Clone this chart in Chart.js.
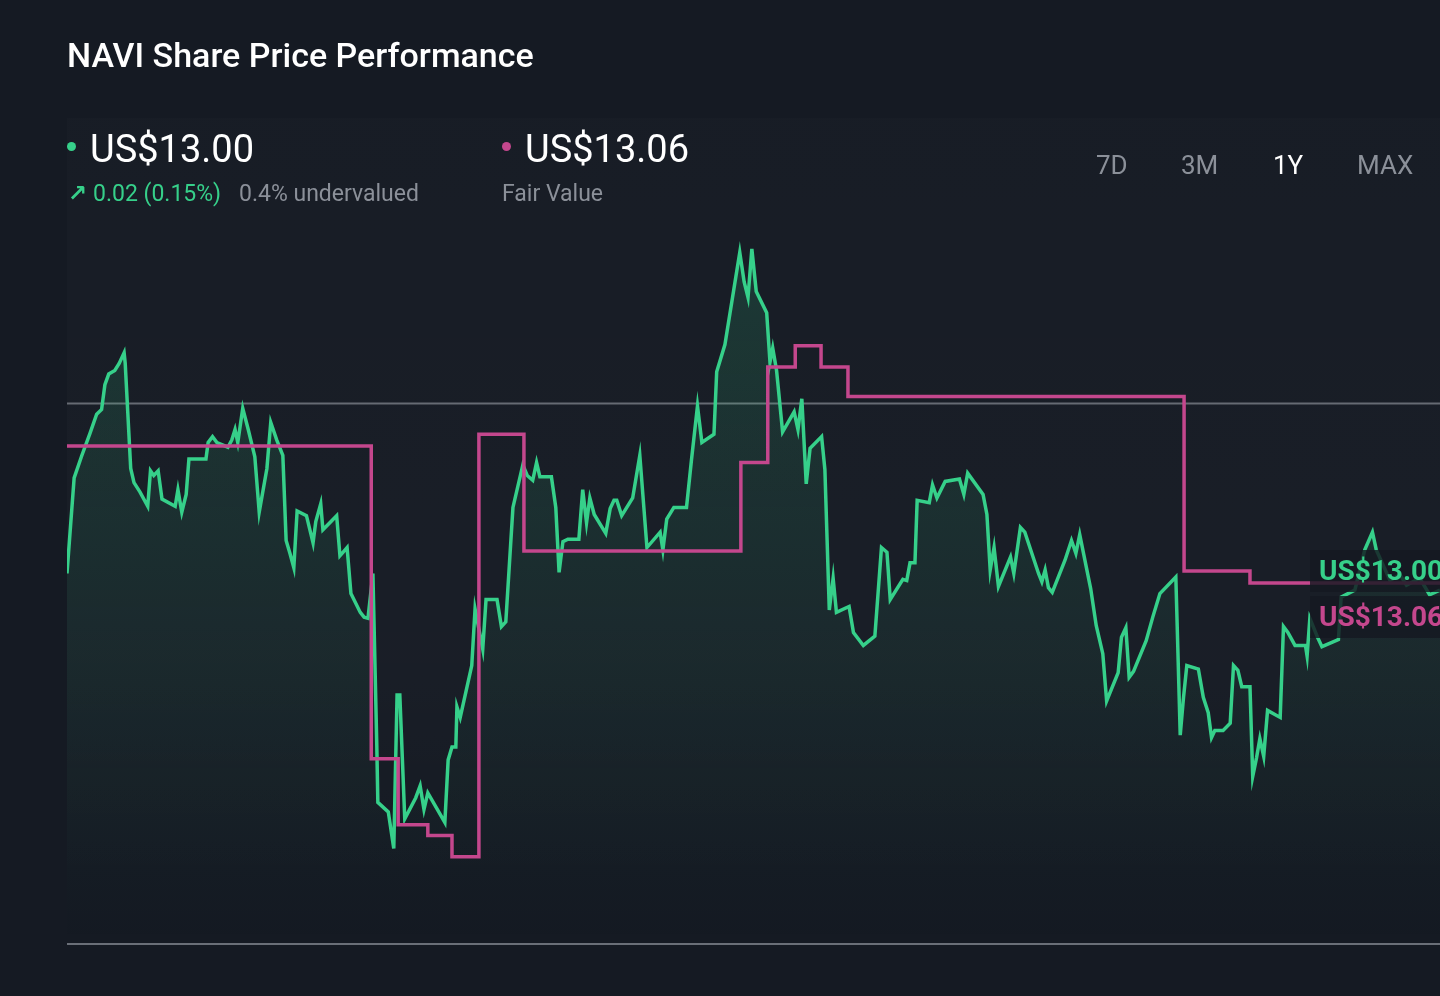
<!DOCTYPE html>
<html>
<head>
<meta charset="utf-8">
<script src="https://cdn.jsdelivr.net/npm/chart.js@4.4.1/dist/chart.umd.min.js"></script>
<style>
  html, body { margin: 0; padding: 0; }
  body {
    width: 1440px; height: 996px; overflow: hidden; position: relative;
    background: #151a23; font-family: Roboto, "Noto Sans", sans-serif; color: #fff;
  }
  .abs { position: absolute; line-height: 1; white-space: nowrap; }
  #plotbg { position: absolute; left: 67px; top: 118px; width: 1373px; height: 772px;
    background: linear-gradient(to bottom, rgba(255,255,255,0.012), rgba(255,255,255,0.018) 70%, rgba(255,255,255,0)); }
  #chart { position: absolute; left: 0; top: 0; }
  .title { left: 67px; top: 38px; font-size: 34px; font-weight: 500; }
  .big { top: 130px; font-size: 38px; font-weight: 400; }
  .dot { position: absolute; width: 9px; height: 9px; border-radius: 50%; }
  .sub { top: 182px; font-size: 23px; }
  .range { top: 152px; font-size: 26px; color: #8b9099; }
  .tag { position: absolute; left: 1310px; width: 140px; height: 42px; line-height: 42px;
    font-size: 28px; font-weight: 700; padding-left: 9px; box-sizing: border-box;
    background: rgba(21,25,33,0.82); white-space: nowrap; overflow: hidden; }
</style>
</head>
<body>
<div id="plotbg"></div>
<canvas id="chart" width="1440" height="996"></canvas>

<div class="abs title">NAVI Share Price Performance</div>

<div class="dot" style="left:67px;top:142px;background:#36d08a"></div>
<div class="abs big" style="left:90px">US$13.00</div>
<div class="abs sub" style="left:68px;color:#36d08a"><b style="font-family:'DejaVu Sans'">↗</b> 0.02 (0.15%)</div>
<div class="abs sub" style="left:239px;color:#8b9099">0.4% undervalued</div>

<div class="dot" style="left:502px;top:142px;background:#c4478d"></div>
<div class="abs big" style="left:525px">US$13.06</div>
<div class="abs sub" style="left:502px;color:#8b9099">Fair Value</div>

<div class="abs range" style="left:1096px">7D</div>
<div class="abs range" style="left:1181px">3M</div>
<div class="abs range" style="left:1273px;color:#fff">1Y</div>
<div class="abs range" style="left:1357px">MAX</div>

<div class="tag" style="top:550px;color:#36d08a">US$13.00</div>
<div class="tag" style="top:596px;color:#c4478d">US$13.06</div>

<script>
// trading day index (0 = one year ago) and close price in US$
const days = [0, 1.3, 2.7, 4.2, 5.4, 6.3, 6.9, 7.6, 8.7, 9.5, 10.4, 10.6, 11.6, 12.2, 13.3, 14.7, 15.2, 15.8, 16.6, 17.3,
  19.7, 20.2, 20.9, 21.7, 22.2, 25.3, 25.7, 26.5, 27.3, 29.3, 30.0, 30.6, 31.1, 32.0, 33.0, 34.2, 35.0, 36.4, 37.1, 38.2,
  39.3, 39.9, 40.6, 41.3, 41.9, 43.6, 44.8, 45.3, 46.2, 46.6, 49.1, 49.7, 51.0, 51.7, 53.4, 54.1, 54.8, 55.7, 56.4, 56.6,
  58.5, 59.5, 60.1, 60.6, 61.5, 63.5, 64.3, 65.0, 65.7, 68.8, 69.4, 70.1, 70.8, 71.0, 71.6, 73.7, 74.3, 75.7, 76.3, 78.3,
  79.1, 79.9, 81.2, 83.0, 83.8, 84.8, 85.5, 86.1, 88.2, 89.0, 89.6, 90.3, 91.2, 93.2, 93.9, 94.6, 95.2, 96.0, 98.1, 98.9,
  99.6, 100.1, 101.0, 103.0, 104.3, 105.6, 108.0, 108.5, 109.2, 110.5, 112.8, 113.7, 114.8, 115.6, 117.8, 118.3, 119.8, 122.5, 123.3, 124.0,
  124.7, 125.5, 127.4, 128.0, 128.5, 129.2, 130.3, 132.4, 133.1, 133.8, 134.6, 135.3, 137.4, 138.0, 138.8, 139.5, 140.1, 142.4, 143.2, 145.0,
  147.1, 148.3, 149.3, 149.9, 152.2, 152.9, 153.5, 154.4, 154.8, 157.0, 157.6, 158.4, 159.9, 162.5, 163.3, 164.0, 166.8, 167.5, 168.1, 168.8,
  169.6, 171.8, 172.4, 173.6, 174.4, 176.9, 177.5, 178.1, 178.7, 179.4, 181.7, 182.9, 183.7, 184.4, 186.4, 187.4, 188.6, 189.3, 191.4, 192.0,
  192.8, 193.4, 194.2, 196.5, 197.7, 199.0, 201.9, 202.7, 203.3, 203.9, 206.0, 206.9, 207.8, 208.4, 209.0, 210.5, 211.8, 212.4, 213.2, 213.9,
  215.4, 215.9, 216.6, 217.2, 217.9, 218.6, 220.9, 221.5, 222.3, 223.6, 225.5, 225.8, 226.3, 227.7, 228.5, 231.5, 232.0, 234.5, 236.3, 237.7,
  238.4, 240.9, 242.7, 243.9, 246.3, 248.1, 250];
const prices = [13.14, 13.95, 14.14, 14.33, 14.49, 14.53, 14.74, 14.83, 14.86, 14.92, 15.01, 14.92, 14.03, 13.91, 13.83, 13.71, 14.01, 13.97, 14.01, 13.77,
  13.71, 13.85, 13.66, 13.81, 14.11, 14.11, 14.25, 14.30, 14.25, 14.21, 14.27, 14.36, 14.25, 14.54, 14.36, 14.13, 13.66, 14.03, 14.42, 14.27,
  14.14, 13.42, 13.31, 13.19, 13.67, 13.63, 13.40, 13.58, 13.73, 13.51, 13.63, 13.29, 13.36, 12.97, 12.81, 12.77, 12.76, 13.14, 11.70, 11.20,
  11.12, 10.81, 12.11, 12.11, 11.06, 11.24, 11.34, 11.14, 11.28, 11.03, 11.56, 11.67, 11.67, 12.01, 11.92, 12.36, 12.84, 12.50, 12.92, 12.92,
  12.69, 12.73, 13.70, 14.06, 13.97, 13.93, 14.08, 13.96, 13.96, 13.70, 13.15, 13.41, 13.43, 13.43, 13.85, 13.57, 13.78, 13.64, 13.48, 13.69,
  13.76, 13.76, 13.63, 13.78, 14.14, 13.36, 13.49, 13.34, 13.60, 13.70, 13.70, 14.10, 14.56, 14.25, 14.32, 14.85, 15.08, 15.86, 15.61, 15.48,
  15.89, 15.53, 15.35, 14.93, 15.05, 14.86, 14.34, 14.51, 14.36, 14.62, 13.90, 14.20, 14.30, 14.02, 12.83, 13.10, 12.81, 12.86, 12.64, 12.53,
  12.61, 13.36, 13.32, 12.92, 13.09, 13.08, 13.23, 13.23, 13.76, 13.74, 13.89, 13.78, 13.92, 13.94, 13.81, 13.99, 13.81, 13.64, 13.17, 13.36,
  13.03, 13.28, 13.14, 13.53, 13.49, 13.14, 13.07, 13.17, 13.02, 12.98, 13.25, 13.42, 13.31, 13.47, 13.01, 12.70, 12.46, 12.06, 12.30, 12.60,
  12.68, 12.26, 12.31, 12.57, 12.77, 12.97, 13.11, 11.77, 12.09, 12.36, 12.33, 12.09, 11.96, 11.75, 11.81, 11.81, 11.87, 12.36, 12.32, 12.18,
  12.18, 11.42, 11.58, 11.74, 11.59, 11.98, 11.92, 12.69, 12.64, 12.53, 12.53, 12.44, 12.76, 12.60, 12.52, 12.58, 12.94, 13.00, 13.34, 13.49,
  13.34, 13.08, 13.13, 13.04, 13.10, 12.96, 13.00];

// fair value estimate: day it changed and the new value
const fairDays = [0, 55.4, 60.3, 65.7, 70.1, 75.0, 83.2, 122.7, 127.6, 132.6, 137.3, 142.2, 203.4, 215.4, 250];
const fairValues = [14.22, 11.57, 11.01, 10.92, 10.74, 14.32, 13.33, 14.08, 14.89, 15.07, 14.89, 14.64, 13.16, 13.06, 13.06];

const refLevel = 14.58;
const yMin = 10, yMax = 17;
const lastDay = 250;

const green = '#36d08a';
const pink = '#c4478d';

const pricePoints = days.map((d, i) => ({ x: d, y: prices[i] }));
const fairPoints = fairDays.map((d, i) => ({ x: d, y: fairValues[i] }));

function greenFill(ctx) {
  const chart = ctx.chart;
  const area = chart.chartArea;
  if (!area) return 'rgba(54,208,138,0.08)';
  const g = chart.ctx.createLinearGradient(0, 250, 0, area.bottom);
  g.addColorStop(0, 'rgba(54,208,138,0.16)');
  g.addColorStop(0.55, 'rgba(54,208,138,0.07)');
  g.addColorStop(0.85, 'rgba(54,208,138,0.02)');
  g.addColorStop(1, 'rgba(54,208,138,0)');
  return g;
}

new Chart(document.getElementById('chart').getContext('2d'), {
  type: 'line',
  data: {
    datasets: [
      {
        label: 'Fair Value',
        data: fairPoints,
        stepped: true,
        borderColor: pink,
        borderWidth: 3.5,
        pointRadius: 0,
        fill: false,
        order: 0
      },
      {
        label: 'Share Price',
        data: pricePoints,
        borderColor: green,
        borderWidth: 3.5,
        pointRadius: 0,
        tension: 0,
        fill: 'origin',
        backgroundColor: greenFill,
        order: 1
      },
      {
        label: 'ref',
        data: [{ x: 0, y: refLevel }, { x: lastDay, y: refLevel }],
        borderColor: '#666b73',
        borderWidth: 2,
        pointRadius: 0,
        fill: false,
        order: 2
      },
      {
        label: 'base',
        data: [{ x: 0, y: yMin }, { x: lastDay, y: yMin }],
        borderColor: '#6a6f78',
        borderWidth: 2,
        pointRadius: 0,
        fill: false,
        clip: false,
        order: 3
      }
    ]
  },
  options: {
    responsive: false,
    animation: false,
    devicePixelRatio: 1,
    layout: { padding: { left: 67, right: 0, top: 118, bottom: 52 } },
    plugins: { legend: { display: false }, tooltip: { enabled: false } },
    scales: {
      x: { type: 'linear', min: 0, max: lastDay, display: false },
      y: { min: yMin, max: yMax, display: false }
    }
  }
});
</script>
</body>
</html>
